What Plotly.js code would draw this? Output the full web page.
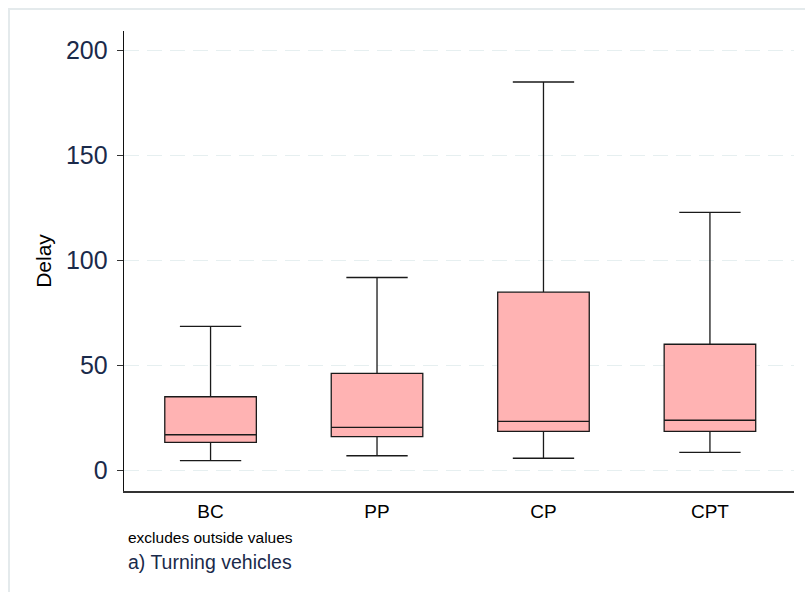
<!DOCTYPE html>
<html>
<head>
<meta charset="utf-8">
<script src="https://cdn.plot.ly/plotly-3.0.1.min.js"></script>
<style>html,body{margin:0;padding:0;background:#fff;}</style>
</head>
<body>
<div id="chart" style="width:805px;height:592px;"></div>
<script>
// Data (excludes outside values)
const categories = ["BC", "PP", "CP", "CPT"];
const lowerWhisker = [4.8, 7.1, 5.9, 8.7];
const q1Values = [13.5, 16.2, 18.7, 18.7];
const medianValues = [17.1, 20.6, 23.5, 24.0];
const q3Values = [35.2, 46.3, 85.0, 60.2];
const upperWhisker = [68.7, 92.0, 185.1, 123.0];
const yTickValues = [0, 50, 100, 150, 200];
const yTickLabels = ["0", "50", "100", "150", "200"];

const trace = {
  type: "box",
  x: categories,
  lowerfence: lowerWhisker,
  q1: q1Values,
  median: medianValues,
  q3: q3Values,
  upperfence: upperWhisker,
  boxpoints: false,
  width: 0.55,
  whiskerwidth: 0.67,
  fillcolor: "#FFB3B3",
  line: {color: "#1a1a1a", width: 1.3},
  hoverinfo: "skip",
  showlegend: false
};

const font = "Liberation Sans, Arial, sans-serif";
const layout = {
  width: 805,
  height: 592,
  margin: {l: 124, r: 11, t: 31, b: 101},
  paper_bgcolor: "#ffffff",
  plot_bgcolor: "#ffffff",
  font: {family: font, color: "#000000"},
  xaxis: {
    type: "category",
    range: [-0.52, 3.505],
    showline: true,
    linecolor: "#333333",
    linewidth: 1.5,
    ticks: "",
    showgrid: false,
    zeroline: false,
    ticklabelstandoff: 3,
    tickfont: {size: 19, color: "#000000", family: font}
  },
  yaxis: {
    range: [-9.7, 209.4],
    tickvals: yTickValues,
    ticktext: yTickLabels,
    ticks: "outside",
    ticklen: 6,
    tickcolor: "#333333",
    tickwidth: 1.3,
    showline: true,
    linecolor: "#111111",
    linewidth: 1.3,
    showgrid: true,
    gridcolor: "#e6eff0",
    gridwidth: 1,
    griddash: "15px,8px",
    zeroline: false,
    ticklabelstandoff: 4,
    tickfont: {size: 25, color: "#1a2a4a", family: font},
    title: {text: "Delay", font: {size: 21, color: "#000000", family: font}, standoff: 8}
  },
  shapes: [
    {type: "rect", xref: "paper", yref: "paper", x0: -0.1716, x1: 1.5, y0: -1, y1: 1.0479,
     line: {color: "#e4eaec", width: 2}, fillcolor: "rgba(0,0,0,0)", layer: "below"}
  ],
  annotations: [
    {xref: "paper", yref: "paper", x: 0.003, y: -0.1007, xanchor: "left", yanchor: "middle",
     text: "excludes outside values", showarrow: false, font: {size: 15.5, color: "#000000", family: font}},
    {xref: "paper", yref: "paper", x: 0.003, y: -0.155, xanchor: "left", yanchor: "middle",
     text: "a) Turning vehicles", showarrow: false, font: {size: 19.5, color: "#1a2a4a", family: font}}
  ]
};

Plotly.newPlot("chart", [trace], layout, {displayModeBar: false, staticPlot: true});
</script>
</body>
</html>
